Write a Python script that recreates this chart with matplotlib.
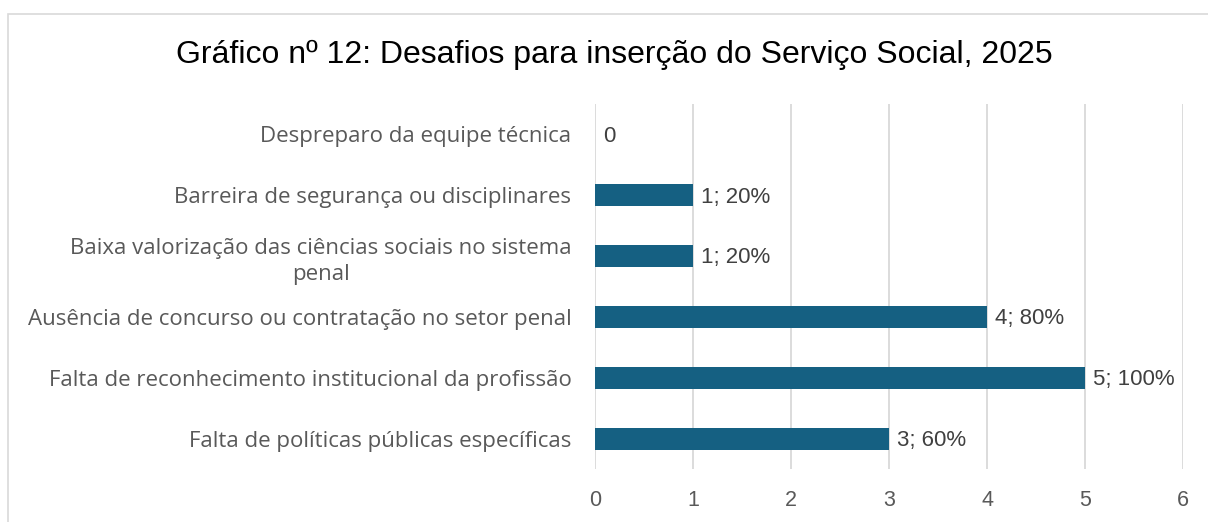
import matplotlib
matplotlib.use("Agg")
import matplotlib.pyplot as plt
from matplotlib.patches import Rectangle

categories = [
    "Despreparo da equipe técnica",
    "Barreira de segurança ou disciplinares",
    "Baixa valorização das ciências sociais no sistema\npenal",
    "Ausência de concurso ou contratação no setor penal",
    "Falta de reconhecimento institucional da profissão",
    "Falta de políticas públicas específicas",
]
values = [0, 1, 1, 4, 5, 3]
labels = ["0", "1; 20%", "1; 20%", "4; 80%", "5; 100%", "3; 60%"]
xticks = [0, 1, 2, 3, 4, 5, 6]

W, H = 1208, 522
fig = plt.figure(figsize=(W / 100, H / 100), dpi=100)
fig.patch.set_facecolor("white")
fig.patches.append(Rectangle((8 / W, -0.5), 1.5, 1.5 - 14 / H, transform=fig.transFigure,
                             fill=False, edgecolor="#d9d9d9", linewidth=1.2))

ax = fig.add_axes([595 / W, 1 - 469 / H, (1183 - 595) / W, (469 - 104) / H])
ypos = list(range(len(categories)))
ax.barh(ypos, values, height=0.36, color="#156082", zorder=3)
ax.set_ylim(len(categories) - 0.5, -0.5)
ax.set_xlim(0, 6)
ax.set_xticks(xticks)
ax.set_xticklabels([str(t) for t in xticks], fontsize=15.5, color="#595959",
                   family="Liberation Sans")
ax.set_yticks(ypos)
ytl = ax.set_yticklabels(categories, fontsize=16, color="#595959", family="Open Sans",
                         linespacing=1.32)
for t in ytl:
    t.set_multialignment("center")
for s in ax.spines.values():
    s.set_visible(False)
ax.tick_params(axis="both", length=0)
ax.tick_params(axis="x", pad=15)
ax.tick_params(axis="y", pad=17)
ax.grid(axis="x", color="#d9d9d9", linewidth=1.3, zorder=0)
ax.set_axisbelow(True)

for y, v, t in zip(ypos, values, labels):
    ax.text(v + 0.08, y + 0.03, t, va="center", ha="left", fontsize=16,
            color="#404040", family="Liberation Sans")

fig.text(614 / W, 1 - 55 / H, "Gráfico nº 12: Desafios para inserção do Serviço Social, 2025",
         ha="center", va="center", fontsize=23, color="black", family="Liberation Sans")

fig.savefig("out.png", dpi=100)
